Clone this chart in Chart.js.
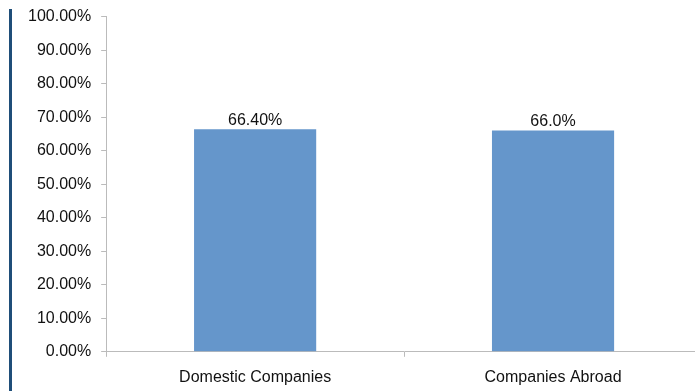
<!DOCTYPE html>
<html>
<head>
<meta charset="utf-8">
<script src="https://cdn.jsdelivr.net/npm/chart.js@4/dist/chart.umd.min.js"></script>
<style>
html,body{margin:0;padding:0;background:#fff;overflow:hidden;}
#wrap{position:relative;width:705px;height:391px;overflow:hidden;}
#c{position:absolute;left:0;top:-3px;}
#bar{position:absolute;left:9px;top:9px;width:3px;height:382px;background:#1F4E79;z-index:2;}
</style>
</head>
<body>
<div id="wrap"><canvas id="c" width="705" height="403"></canvas><div id="bar"></div></div>
<script>
const categories = ["Domestic Companies", "Companies Abroad"];
const values = [66.40, 66.0];
const valueLabels = ["66.40%", "66.0%"];

const labelPlugin = {
  id: 'valueLabels',
  afterDatasetsDraw(chart) {
    const ctx = chart.ctx;
    const meta = chart.getDatasetMeta(0);
    ctx.save();
    ctx.font = '16px "Liberation Sans", Arial, sans-serif';
    ctx.fillStyle = '#111';
    ctx.textAlign = 'center';
    ctx.textBaseline = 'bottom';
    meta.data.forEach((el, i) => {
      ctx.fillText(valueLabels[i], el.x, el.y - 1);
    });
    ctx.restore();
  }
};

new Chart(document.getElementById('c'), {
  type: 'bar',
  data: {
    labels: categories,
    datasets: [{
      data: values,
      backgroundColor: '#6596CB',
      borderColor: '#6596CB',
      borderWidth: 0,
      categoryPercentage: 0.41,
      barPercentage: 1.0
    }]
  },
  options: {
    responsive: false,
    animation: false,
    devicePixelRatio: 1,
    layout: { padding: { top: 2, left: 18, right: 3, bottom: 2 } },
    plugins: { legend: { display: false }, tooltip: { enabled: false } },
    scales: {
      y: {
        min: 0, max: 100,
        ticks: {
          stepSize: 10,
          padding: 10,
          color: '#111',
          font: { family: '"Liberation Sans", Arial, sans-serif', size: 16 },
          callback: v => v.toFixed(2) + '%'
        },
        grid: { drawOnChartArea: false, drawTicks: true, tickLength: 5, color: '#BBBBBB' },
        border: { color: '#BBBBBB', width: 1 }
      },
      x: {
        ticks: {
          padding: 11,
          color: '#111',
          font: { family: '"Liberation Sans", Arial, sans-serif', size: 16 }
        },
        grid: { drawOnChartArea: false, drawTicks: true, tickLength: 5, color: '#BBBBBB', offset: true },
        border: { color: '#BBBBBB', width: 1 }
      }
    }
  },
  plugins: [labelPlugin]
});
</script>
</body>
</html>
